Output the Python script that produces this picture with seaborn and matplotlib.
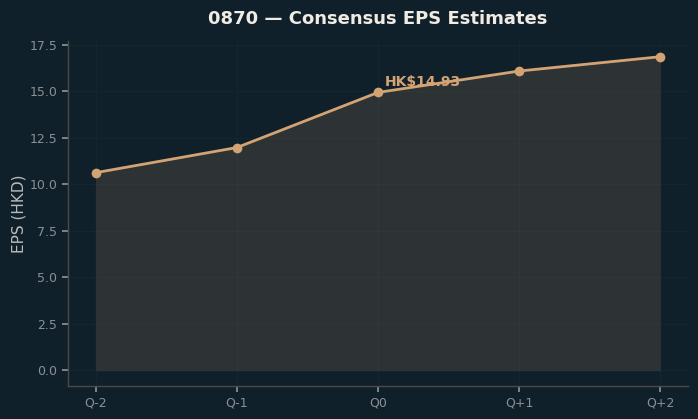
import matplotlib
matplotlib.use("Agg")
import matplotlib.pyplot as plt
import seaborn as sns
import pandas as pd

quarters = ["Q-2", "Q-1", "Q0", "Q+1", "Q+2"]
eps_values = [10.62, 11.97, 14.93, 16.08, 16.85]
ticker = "0870"

bg = "#10202a"
line_color = "#d4a373"
grid_color = "#15252d"
spine_color = "#4a4a48"
tick_color = "#8a9094"

sns.set_theme(style="dark")
plt.rcParams['font.family'] = ['DejaVu Sans']

df = pd.DataFrame({"quarter": quarters, "eps": eps_values})
df["pos"] = range(len(df))

fig, ax = plt.subplots(figsize=(6.98, 4.19), dpi=100)
fig.patch.set_facecolor(bg)
ax.set_facecolor(bg)

ax.fill_between(df["pos"], df["eps"], 0, color=line_color, alpha=0.15,
                edgecolor=spine_color, linewidth=1)
sns.lineplot(data=df, x="pos", y="eps", ax=ax, color=line_color, linewidth=2,
             marker="o", markersize=7, markeredgewidth=0)

q0 = df[df["quarter"] == "Q0"].iloc[0]
ax.annotate(f"HK${q0['eps']:.2f}", (q0["pos"], q0["eps"]), xytext=(5, 5),
            textcoords="offset points", color=line_color, fontsize=10,
            fontweight="bold")

ax.set_xticks(df["pos"])
ax.set_xticklabels(quarters)
ax.set_title(f"{ticker} — Consensus EPS Estimates", color="#f0ece4",
             fontsize=13, fontweight="bold", pad=12)
ax.set_xlabel("")
ax.set_ylabel("EPS (HKD)", color="#b8bcbe", fontsize=11, labelpad=2)
ax.tick_params(colors=tick_color, labelsize=9, length=4, bottom=True, left=True)
ax.grid(True, color=grid_color, linewidth=0.8)
for side in ["top", "right"]:
    ax.spines[side].set_visible(False)
for side in ["left", "bottom"]:
    ax.spines[side].set_color(spine_color)
    ax.spines[side].set_linewidth(1)

plt.subplots_adjust(left=0.097, right=0.986, top=0.902, bottom=0.079)
plt.savefig("out.png", dpi=100, facecolor=bg)
